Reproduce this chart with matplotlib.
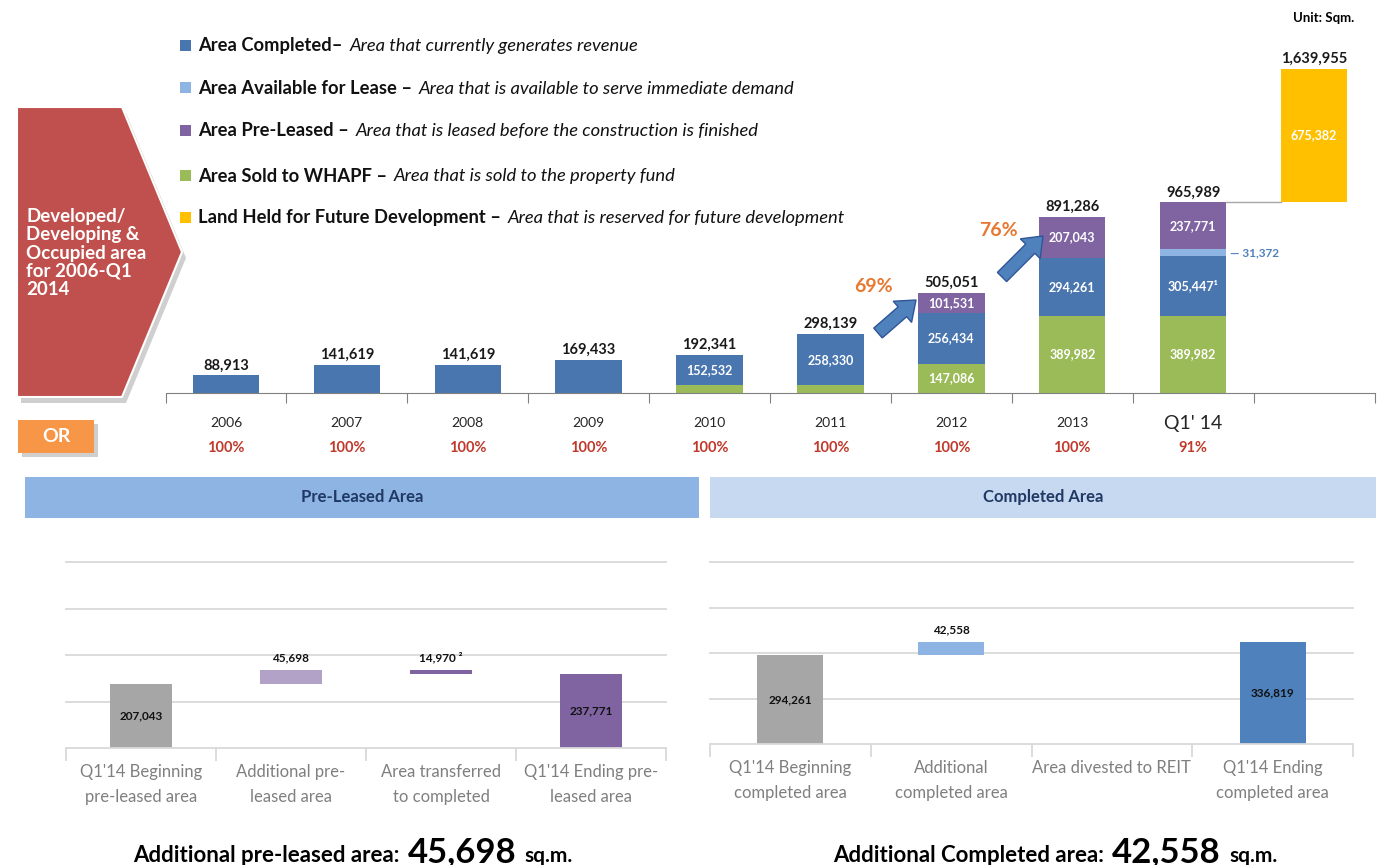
import numpy as np
import matplotlib
matplotlib.use('Agg')
import matplotlib.pyplot as plt
from matplotlib.patches import Polygon, Rectangle, FancyArrow
from matplotlib.offsetbox import TextArea, HPacker, AnnotationBbox

plt.rcParams['font.family'] = ['Lato', 'DejaVu Sans']

W, H = 1378, 865

# --- top chart data (sqm) ---
periods = ['2006', '2007', '2008', '2009', '2010', '2011', '2012', '2013', "Q1' 14"]
occupancy = ['100%', '100%', '100%', '100%', '100%', '100%', '100%', '100%', '91%']
sold_whapf = [0, 0, 0, 0, 39809, 39809, 147086, 389982, 389982]
completed = [88913, 141619, 141619, 169433, 152532, 258330, 256434, 294261, 305447]
completed_note = ['', '', '', '', '', '', '', '', '¹']
available = [0, 0, 0, 0, 0, 0, 0, 0, 31372]
pre_leased = [0, 0, 0, 0, 0, 0, 101531, 207043, 237771]
totals = [88913, 141619, 141619, 169433, 192341, 298139, 505051, 891286, 965989]
land_future = 675382
land_total = 1639955

# --- bottom charts data ---
pl_cats = ["Q1'14 Beginning\npre-leased area", "Additional pre-\nleased area",
           "Area transferred\nto completed", "Q1'14 Ending pre-\nleased area"]
pl_begin, pl_added, pl_transfer, pl_end = 207043, 45698, 14970, 237771

cp_cats = ["Q1'14 Beginning\ncompleted area", "Additional\ncompleted area",
           "Area divested to REIT", "Q1'14 Ending\ncompleted area"]
cp_begin, cp_added, cp_divested, cp_end = 294261, 42558, 0, 336819

legend_items = [
    ('Area Completed–', 'Area that currently generates revenue', '#4A76B0'),
    ('Area Available for Lease –', 'Area that is available to serve immediate demand', '#8EB4E3'),
    ('Area Pre-Leased –', 'Area that is leased before the construction is finished', '#8064A2'),
    ('Area Sold to WHAPF –', 'Area that is sold to the property fund', '#9BBB59'),
    ('Land Held for Future Development –', 'Area that is reserved for future development', '#FFC000'),
]

BLUE, LBLUE, PURPLE, GREEN, YELLOW = '#4A76B0', '#8EB4E3', '#8064A2', '#9BBB59', '#FFC000'


def px_rect(x0, y0, x1, y1):
    return [x0 / W, 1 - y1 / H, (x1 - x0) / W, (y1 - y0) / H]


fig = plt.figure(figsize=(W / 100, H / 100), dpi=100)

# ---------------- top stacked chart ----------------
ax = fig.add_axes(px_rect(165.5, 0, 1374.5, 393))
ax.patch.set_alpha(0)
x = np.arange(len(periods))
bw = 0.55
bottom = np.zeros(len(periods))
for vals, c in [(sold_whapf, GREEN), (completed, BLUE), (available, LBLUE), (pre_leased, PURPLE)]:
    vals = np.array(vals, float)
    ax.bar(x, vals, bw, bottom=bottom, color=c, linewidth=0)
    bottom += vals

land_x = len(periods)
land_base = land_total - land_future
ax.bar(land_x, land_future, bw, bottom=land_base, color=YELLOW, linewidth=0)
ax.plot([x[-1] + bw / 2, land_x - bw / 2], [land_base, land_base], color='#A6A6A6', lw=1)

lab_kw = dict(ha='center', va='center', color='white', fontweight='bold', fontsize=9)
for i in x:
    ax.annotate(f'{totals[i]:,}', (i, bottom[i]), xytext=(0, 3), textcoords='offset pixels',
                ha='center', va='bottom', fontsize=10.5, fontweight='bold', color='#1a1a1a')
    g = sold_whapf[i]
    if g >= 100000:
        ax.text(i, g / 2, f'{g:,}', **lab_kw)
    if completed[i] != totals[i]:
        ax.text(i, g + completed[i] / 2, f'{completed[i]:,}{completed_note[i]}', **lab_kw)
    if available[i] > 0:
        ax.annotate(f'— {available[i]:,}', (i + bw / 2, g + completed[i] + available[i] / 2),
                    xytext=(4, 0), textcoords='offset pixels', ha='left', va='center',
                    color='#4F81BD', fontweight='bold', fontsize=8.5)
    if pre_leased[i] > 0:
        ax.text(i, bottom[i] - pre_leased[i] / 2, f'{pre_leased[i]:,}', **lab_kw)
    ax.annotate(periods[i], (i, 0), xytext=(0, -30), textcoords='offset pixels',
                ha='center', va='center', color='#262626',
                fontsize=14 if i == len(periods) - 1 else 10)
    ax.annotate(occupancy[i], (i, 0), xytext=(0, -55), textcoords='offset pixels',
                ha='center', va='center', color='#C0392B', fontweight='bold', fontsize=10.5)

ax.annotate(f'{land_total:,}', (land_x, land_total), xytext=(0, 3), textcoords='offset pixels',
            ha='center', va='bottom', fontsize=10.5, fontweight='bold', color='#1a1a1a')
ax.text(land_x, land_base + land_future / 2, f'{land_future:,}', **lab_kw)

ax.set_xlim(-0.5, 9.5)
ax.set_ylim(0, 393 / 0.1977 * 1000)
for s in ['top', 'left', 'right']:
    ax.spines[s].set_visible(False)
ax.spines['bottom'].set_color('#808080')
ax.set_yticks([])
ax.set_xticks(np.arange(-0.5, 10, 1))
ax.tick_params(axis='x', length=7, color='#808080', labelbottom=False)


# ---------------- bottom waterfall charts ----------------
def waterfall(rect, cats, bottoms, heights, colors, labels, inside):
    a = fig.add_axes(rect)
    a.patch.set_alpha(0)
    xs = np.arange(len(cats))
    for gy in [150000, 300000, 450000, 600000]:
        a.axhline(gy, color='#D9D9D9', lw=1.3, zorder=0, clip_on=False)
    for i in xs:
        if heights[i] <= 0:
            continue
        a.bar(i, heights[i], 0.41, bottom=bottoms[i], color=colors[i], linewidth=0, zorder=2)
        if inside[i]:
            a.text(i, bottoms[i] + heights[i] / 2, labels[i], ha='center', va='center',
                   fontsize=8.5, fontweight='bold', color='#111111', zorder=3)
        else:
            a.annotate(labels[i], (i, bottoms[i] + heights[i]), xytext=(0, 6),
                       textcoords='offset pixels', ha='center', va='bottom',
                       fontsize=8.5, fontweight='bold', color='#111111')
    for i, c in enumerate(cats):
        a.annotate(c, (i, 0), xytext=(0, -16), textcoords='offset pixels', ha='center',
                   va='top', color='#7F7F7F', fontsize=12, linespacing=1.7)
    a.set_xlim(-0.5, len(cats) - 0.5)
    a.set_ylim(0, 600000)
    for s in ['top', 'left', 'right']:
        a.spines[s].set_visible(False)
    a.spines['bottom'].set_color('#D9D9D9')
    a.spines['bottom'].set_linewidth(1.3)
    a.set_yticks([])
    a.set_xticks(np.arange(-0.5, len(cats), 1))
    a.tick_params(axis='x', length=9, width=1.3, color='#D9D9D9', labelbottom=False)
    return a


waterfall(px_rect(66, 562, 666, 748), pl_cats,
          [0, pl_begin, pl_begin + pl_added - pl_transfer, 0],
          [pl_begin, pl_added, pl_transfer, pl_end],
          ['#A6A6A6', '#B3A2C7', '#8064A2', '#8064A2'],
          [f'{pl_begin:,}', f'{pl_added:,}', f'{pl_transfer:,} ²', f'{pl_end:,}'],
          [True, False, False, True])

waterfall(px_rect(710, 562, 1353, 744), cp_cats,
          [0, cp_begin, cp_begin + cp_added - cp_divested, 0],
          [cp_begin, cp_added, cp_divested, cp_end],
          ['#A6A6A6', '#8EB4E3', '#4F81BD', '#4F81BD'],
          [f'{cp_begin:,}', f'{cp_added:,}', f'{cp_divested:,}', f'{cp_end:,}'],
          [True, False, False, True])

# ---------------- decorations (pixel overlay) ----------------
ov = fig.add_axes([0, 0, 1, 1], zorder=5)
ov.set_xlim(0, W)
ov.set_ylim(H, 0)
ov.axis('off')
ov.patch.set_alpha(0)

shape = [(17, 107), (122, 107), (182, 252), (122, 397), (17, 397)]
ov.add_patch(Polygon([(px + 4, py + 6) for px, py in shape], closed=True, color='#CFCFCF', lw=0))
ov.add_patch(Polygon(shape, closed=True, facecolor='#C0504D', edgecolor='white', lw=1.5))
ov.text(26, 253, 'Developed/\nDeveloping &\nOccupied area\nfor 2006-Q1\n2014', color='white',
        fontweight='bold', fontsize=13.5, ha='left', va='center', linespacing=1.08)

ov.add_patch(Rectangle((22, 424), 76, 33, color='#CFCFCF', lw=0))
ov.add_patch(Rectangle((18, 420), 76, 33, color='#F79646', lw=0))
ov.text(56, 437, 'OR', color='white', fontweight='bold', fontsize=14, ha='center', va='center')

for (tx, ty), (hx, hy) in [((878, 333), (916, 300)), ((1002, 277), (1043, 236))]:
    ov.add_patch(FancyArrow(tx, ty, hx - tx, hy - ty, width=13, head_width=28, head_length=18,
                            length_includes_head=True, facecolor='#4F81BD', edgecolor='#2F5597', lw=1))
ov.text(873, 287, '69%', color='#E8782F', fontweight='bold', fontsize=14, ha='center', va='center')
ov.text(998, 231, '76%', color='#E8782F', fontweight='bold', fontsize=14, ha='center', va='center')
ov.text(1324, 18, 'Unit: Sqm.', fontweight='bold', fontsize=9.5, ha='center', va='center')

for k, (b, it, c) in enumerate(legend_items):
    y = [46, 88, 131, 176, 218][k]
    ov.add_patch(Rectangle((180, y - 6), 11, 11, color=c, lw=0))
    box = HPacker(children=[TextArea(b, textprops=dict(fontsize=13.2, fontweight='bold', color='#111111')),
                            TextArea(it, textprops=dict(fontsize=13.2, fontstyle='italic', color='#111111'))],
                  align='baseline', pad=0, sep=5)
    ov.add_artist(AnnotationBbox(box, (198, y), xycoords='data', frameon=False,
                                 box_alignment=(0, 0.5), annotation_clip=False))

ov.add_patch(Rectangle((25, 477), 674, 41, color='#8DB4E2', lw=0))
ov.add_patch(Rectangle((710, 477), 666, 41, color='#C6D9F1', lw=0))
ov.text(362, 497, 'Pre-Leased Area', color='#1F3864', fontweight='bold', fontsize=12, ha='center', va='center')
ov.text(1043, 497, 'Completed Area', color='#1F3864', fontweight='bold', fontsize=12, ha='center', va='center')

for cx, lead, num in [(353, 'Additional pre-leased area:', pl_added), (1055, 'Additional Completed area:', cp_added)]:
    box = HPacker(children=[TextArea(lead, textprops=dict(fontsize=16, fontweight='bold', color='black')),
                            TextArea(f'{num:,}', textprops=dict(fontsize=25, fontweight='bold', color='black')),
                            TextArea('sq.m.', textprops=dict(fontsize=15, fontweight='bold', color='black'))],
                  align='baseline', pad=0, sep=6)
    ov.add_artist(AnnotationBbox(box, (cx, 866), xycoords='data', frameon=False,
                                 box_alignment=(0.5, 0.05), annotation_clip=False))

fig.savefig('out.png', dpi=100)
